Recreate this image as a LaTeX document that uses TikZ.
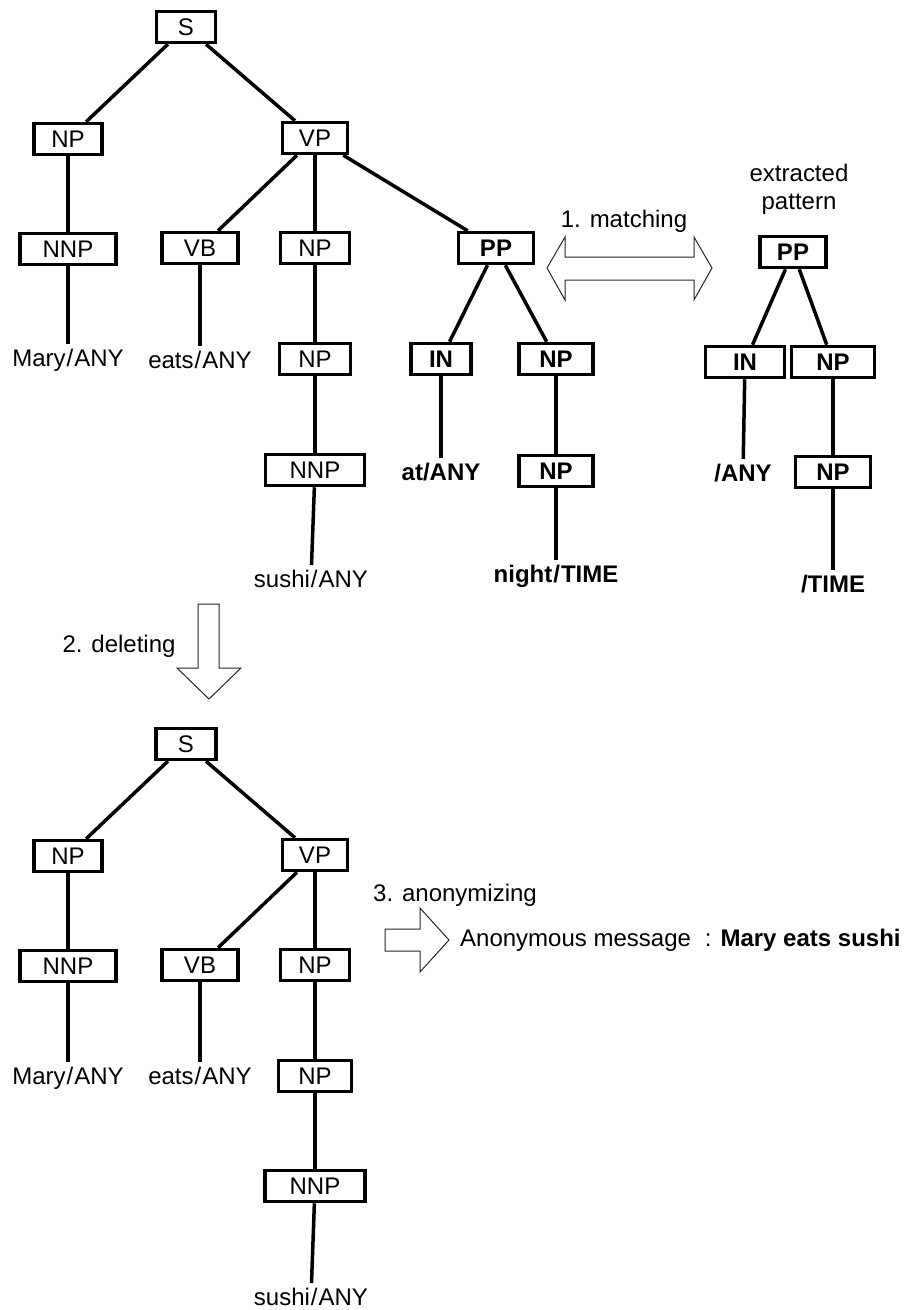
\documentclass[tikz,border=0pt]{standalone}
\usepackage{fontspec}
\setmainfont{Liberation Sans}
\usetikzlibrary{positioning}

\tikzset{
  tag/.style={draw, rectangle, line width=3.5pt, minimum height=31pt, inner sep=0pt,
              font=\fontsize{24}{28}\selectfont},
  tagb/.style={tag, font=\fontsize{24}{28}\selectfont\bfseries},
  word/.style={inner sep=5pt, font=\fontsize{24}{28}\selectfont},
  wordb/.style={word, font=\fontsize{24}{28}\selectfont\bfseries},
  note/.style={inner sep=0pt, font=\fontsize{24}{28}\selectfont, align=center},
  branch/.style={line width=3.5pt},
  blockarrow/.style={draw=black!85, line width=1pt, line join=miter, fill=white},
}

\begin{document}
\begin{tikzpicture}[x=1pt,y=1pt,on grid]
  \useasboundingbox (0,0) rectangle (910,-1310);

  % original tree
  \node[tag, minimum width=59]  (s_1)    at (186,-27) {S};
  \node[tag, minimum width=68]  (np_1)   [below left=112pt and 118pt of s_1] {NP};
  \node[tag, minimum width=65]  (vp_1)   [below right=111pt and 129pt of s_1] {VP};
  \node[tag, minimum width=96]  (nnp_1)  [below=110pt of np_1] {NNP};
  \node[tag, minimum width=76]  (vb_1)   [below left=110pt and 115pt of vp_1] {VB};
  \node[tag, minimum width=69]  (np_2)   [below=110pt of vp_1] {NP};
  \node[tagb, minimum width=75] (pp_1)   [below right=110pt and 181pt of vp_1] {PP};
  \node[tag, minimum width=71]  (np_3)   [below=111pt of np_2] {NP};
  \node[tag, minimum width=99]  (nnp_2)  [below=111pt of np_3] {NNP};
  \node[tagb, minimum width=60] (in_1)   [below left=111pt and 55pt of pp_1] {IN};
  \node[tagb, minimum width=74] (np_4)   [below right=111pt and 60pt of pp_1] {NP};
  \node[tagb, minimum width=74] (np_5)   [below=112pt of np_4] {NP};

  \node[word]  (mary_1)  [below=111pt of nnp_1] {Mary\kern1pt/\kern1pt ANY};
  \node[word]  (eats_1)  [below=112pt of vb_1] {eats\kern1pt/\kern1pt ANY};
  \node[word]  (sushi_1) [below left=109pt and 4pt of nnp_2] {sushi\kern1pt/\kern1pt ANY};
  \node[wordb] (at_1)    [below=113pt of in_1] {at/ANY};
  \node[wordb] (night_1) [below=105pt of np_5] {night\kern1pt/\kern1pt TIME};

  \path[branch]
  (s_1)   edge (np_1)
          edge (vp_1)
  (np_1)  edge (nnp_1)
  (nnp_1) edge (mary_1)
  (vp_1)  edge (vb_1)
          edge (np_2)
          edge (pp_1)
  (vb_1)  edge (eats_1)
  (np_2)  edge (np_3)
  (np_3)  edge (nnp_2)
  (nnp_2) edge (sushi_1)
  (pp_1)  edge (in_1)
          edge (np_4)
  (in_1)  edge (at_1)
  (np_4)  edge (np_5)
  (np_5)  edge (night_1);

  % extracted pattern
  \node[tagb, minimum width=66] (pp_2) at (793,-252) {PP};
  \node[tagb, minimum width=79] (in_2) [below left=110pt and 48pt of pp_2] {IN};
  \node[tagb, minimum width=83] (np_6) [below right=110pt and 40pt of pp_2] {NP};
  \node[tagb, minimum width=75] (np_7) [below=110pt of np_6] {NP};
  \node[wordb] (any_2)  [below left=111pt and 2pt of in_2] {/ANY};
  \node[wordb] (time_2) [below=112pt of np_7] {/TIME};
  \node[note] (pattern) [above right=63pt and 6pt of pp_2] {extracted\\pattern};

  \path[branch]
  (pp_2) edge (in_2)
         edge (np_6)
  (in_2) edge (any_2)
  (np_6) edge (np_7)
  (np_7) edge (time_2);

  % 1. matching
  \draw[blockarrow] (547,-268) -- (565,-237) -- (565,-257) -- (694,-257) -- (694,-237)
    -- (712,-268) -- (694,-300) -- (694,-280) -- (565,-280) -- (565,-300) -- cycle;
  \node[note] (matching) at (624,-221) {1. matching};

  % 2. deleting
  \draw[blockarrow] (198,-604) -- (219,-604) -- (219,-668) -- (241,-668) -- (209,-699)
    -- (177,-668) -- (198,-668) -- cycle;
  \node[note] (deleting) at (119,-646) {2. deleting};

  % remaining tree
  \node[tag, minimum width=60]  (s_3)    at (186,-744) {S};
  \node[tag, minimum width=68]  (np_8)   [below left=112pt and 118pt of s_3] {NP};
  \node[tag, minimum width=65]  (vp_3)   [below right=111pt and 129pt of s_3] {VP};
  \node[tag, minimum width=96]  (nnp_3)  [below=110pt of np_8] {NNP};
  \node[tag, minimum width=76]  (vb_3)   [below left=110pt and 115pt of vp_3] {VB};
  \node[tag, minimum width=69]  (np_9)   [below=110pt of vp_3] {NP};
  \node[tag, minimum width=73]  (np_10)  [below=111pt of np_9] {NP};
  \node[tag, minimum width=100] (nnp_4)  [below=110pt of np_10] {NNP};

  \node[word] (mary_3)  [below=112pt of nnp_3] {Mary\kern1pt/\kern1pt ANY};
  \node[word] (eats_3)  [below=111pt of vb_3] {eats\kern1pt/\kern1pt ANY};
  \node[word] (sushi_3) [below left=111pt and 4pt of nnp_4] {sushi\kern1pt/\kern1pt ANY};

  \path[branch]
  (s_3)   edge (np_8)
          edge (vp_3)
  (np_8)  edge (nnp_3)
  (nnp_3) edge (mary_3)
  (vp_3)  edge (vb_3)
          edge (np_9)
  (vb_3)  edge (eats_3)
  (np_9)  edge (np_10)
  (np_10) edge (nnp_4)
  (nnp_4) edge (sushi_3);

  % 3. anonymizing
  \draw[blockarrow] (385,-929) -- (420,-929) -- (420,-908) -- (449,-940) -- (420,-972)
    -- (420,-951) -- (385,-951) -- cycle;
  \node[note, anchor=west] (anonymizing) at (373,-895) {3. anonymizing};
  \node[note, anchor=west] (message) at (460,-940)
    {Anonymous message\hspace{14pt}: \textbf{Mary eats sushi}};
\end{tikzpicture}
\end{document}
